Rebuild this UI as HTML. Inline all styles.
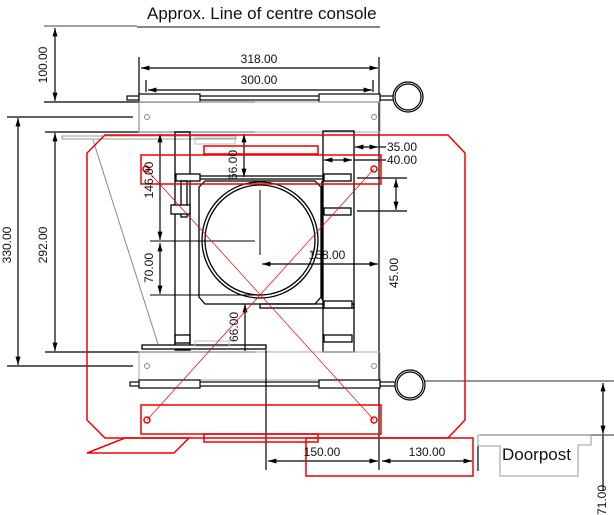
<!DOCTYPE html>
<html><head><meta charset="utf-8"><style>
html,body{margin:0;padding:0;background:#fff;}
svg{display:block;font-family:"Liberation Sans",sans-serif;}
</style></head><body>
<svg width="614" height="515" viewBox="0 0 614 515" xmlns="http://www.w3.org/2000/svg">
<defs>
<marker id="a" viewBox="0 0 10 10" refX="10" refY="5" markerWidth="7" markerHeight="7" orient="auto-start-reverse"><path d="M0,2 L10,5 L0,8 z" fill="#000"/></marker>
</defs>
<text x="147" y="19" font-size="17" fill="#111">Approx. Line of centre console</text>
<line x1="137" y1="27" x2="380" y2="27" stroke="#888" stroke-width="2"/>
<line x1="44" y1="26" x2="137" y2="26" stroke="#444" stroke-width="1"/>
<g stroke="#000" stroke-width="1.2" fill="none">
<line x1="55" y1="28" x2="55" y2="101" marker-start="url(#a)" marker-end="url(#a)"/>
<line x1="44" y1="102" x2="255" y2="102"/>
<line x1="139" y1="57" x2="139" y2="132"/>
<line x1="379" y1="57" x2="379" y2="470"/>
<line x1="141" y1="68" x2="378" y2="68" marker-start="url(#a)" marker-end="url(#a)"/>
<line x1="146" y1="80" x2="146" y2="92"/>
<line x1="373" y1="80" x2="373" y2="92"/>
<line x1="148" y1="90" x2="372" y2="90" marker-start="url(#a)" marker-end="url(#a)"/>
<rect x="127" y="96" width="253" height="4"/>
<rect x="139" y="94" width="61" height="8" fill="#fff"/>
<rect x="319" y="94" width="61" height="8" fill="#fff"/>
<line x1="380" y1="96" x2="393" y2="96"/><line x1="380" y1="100" x2="393" y2="100"/>
<circle cx="408" cy="97" r="15"/><circle cx="408" cy="97" r="13"/>
<line x1="7" y1="117" x2="133" y2="117"/>
<line x1="7" y1="366" x2="133" y2="366"/>
<line x1="18" y1="118" x2="18" y2="365" marker-start="url(#a)" marker-end="url(#a)"/>
<line x1="45" y1="132" x2="255" y2="132"/>
<line x1="45" y1="352" x2="255" y2="352"/>
<line x1="55" y1="133" x2="55" y2="351" marker-start="url(#a)" marker-end="url(#a)"/>
</g>
<rect x="139" y="102" width="241" height="30" fill="none" stroke="#aaa"/>
<circle cx="147" cy="117" r="2.5" fill="none" stroke="#888"/>
<circle cx="374" cy="117" r="2.5" fill="none" stroke="#888"/>
<rect x="62" y="136" width="174" height="3" fill="none" stroke="#999"/>
<line x1="93" y1="140" x2="158" y2="344" stroke="#888"/>
<rect x="195" y="138" width="40" height="6" fill="none" stroke="#bbb"/>
<g stroke="#000" stroke-width="1.3" fill="none">
<rect x="175" y="132" width="15" height="218"/>
<rect x="323" y="131" width="31" height="221"/>
<line x1="190" y1="176" x2="323" y2="176"/><line x1="190" y1="179" x2="323" y2="179"/>
<rect x="176" y="174" width="24" height="7" fill="#fff"/>
<rect x="324" y="174" width="27" height="7" fill="#fff"/>
<rect x="324" y="208" width="27" height="7" fill="#fff"/>
<rect x="181" y="181" width="6" height="36"/>
<rect x="171" y="205" width="19" height="9" fill="#fff"/>
<path d="M205,181 L315,181 L321,187 L321,297 L315,304 L205,304 L199,297 L199,187 Z"/>
<line x1="322" y1="181" x2="322" y2="300"/>
<circle cx="260" cy="240" r="58"/><circle cx="260" cy="240" r="55"/>
<line x1="260" y1="190" x2="260" y2="255" stroke-width="1"/>
<line x1="150" y1="241" x2="255" y2="241" stroke-width="1"/>
<line x1="150" y1="295" x2="255" y2="295" stroke-width="1"/>
<rect x="260" y="304" width="94" height="4"/>
<rect x="324" y="301" width="28" height="7" fill="#fff"/>
<rect x="324" y="335" width="28" height="7" fill="#fff"/>
<rect x="175" y="335" width="15" height="8"/>
<rect x="142" y="345" width="124" height="4" fill="#fff"/>
</g>
<rect x="195" y="341" width="34" height="5" fill="none" stroke="#bbb"/>
<rect x="139" y="352" width="241" height="28" fill="none" stroke="#aaa"/>
<circle cx="147" cy="366" r="2.5" fill="none" stroke="#888"/>
<circle cx="374" cy="366" r="2.5" fill="none" stroke="#888"/>
<g stroke="#000" stroke-width="1.2" fill="none">
<rect x="130" y="382" width="250" height="4"/>
<rect x="139" y="380" width="61" height="8" fill="#fff"/>
<rect x="319" y="380" width="61" height="8" fill="#fff"/>
<line x1="380" y1="382" x2="395" y2="382"/><line x1="380" y1="386" x2="395" y2="386"/>
<circle cx="410" cy="385" r="15"/><circle cx="410" cy="385" r="13"/>
<line x1="425" y1="381" x2="614" y2="381" stroke="#555"/>
<line x1="480" y1="435" x2="614" y2="435" stroke="#555"/>
<line x1="603" y1="383" x2="603" y2="434" marker-start="url(#a)" marker-end="url(#a)"/>
<line x1="603" y1="435" x2="603" y2="490"/>
<line x1="160" y1="134" x2="160" y2="240" marker-start="url(#a)" marker-end="url(#a)"/>
<line x1="160" y1="243" x2="160" y2="294" marker-start="url(#a)" marker-end="url(#a)"/>
<line x1="244" y1="134" x2="244" y2="177" marker-start="url(#a)" marker-end="url(#a)"/>
<line x1="245" y1="304" x2="245" y2="351" marker-start="url(#a)"/>
<line x1="262" y1="264" x2="378" y2="264" marker-start="url(#a)" marker-end="url(#a)"/>
<line x1="355" y1="147" x2="378" y2="147" marker-start="url(#a)" marker-end="url(#a)"/>
<line x1="324" y1="160" x2="352" y2="160" marker-start="url(#a)" marker-end="url(#a)"/>
<line x1="379" y1="147" x2="386" y2="147"/>
<line x1="354" y1="160" x2="386" y2="160"/>
<line x1="357" y1="178" x2="407" y2="178"/>
<line x1="357" y1="211" x2="407" y2="211"/>
<line x1="396" y1="179" x2="396" y2="210" marker-start="url(#a)" marker-end="url(#a)"/>
<line x1="266" y1="350" x2="266" y2="470"/>
<line x1="268" y1="461" x2="378" y2="461" marker-start="url(#a)" marker-end="url(#a)"/>
<line x1="382" y1="461" x2="472" y2="461" marker-start="url(#a)" marker-end="url(#a)"/>
<line x1="478" y1="446" x2="478" y2="471"/>
</g>
<polygon points="478,435 591,435 591,445 578,445 578,476 500,476 500,446 478,446" fill="none" stroke="#999"/>
<text x="502" y="460" font-size="17" fill="#111">Doorpost</text>
<g stroke="#e00" fill="none" stroke-width="1.5">
<polygon points="105,135 448,135 465,153 465,420 448,438 105,438 87,420 87,153"/>
<rect x="141" y="155" width="240" height="29"/>
<rect x="204" y="146" width="114" height="8"/>
<rect x="141" y="405" width="240" height="29"/>
<rect x="204" y="434" width="114" height="8"/>
<rect x="306" y="438" width="167" height="38"/>
<polygon points="87,453 125,438 189,438 174,453"/>
<circle cx="146" cy="169" r="3"/><circle cx="374" cy="169" r="3"/>
<circle cx="147" cy="420" r="3"/><circle cx="374" cy="420" r="3"/>
<line x1="146" y1="169" x2="374" y2="420" stroke-width="0.7"/>
<line x1="374" y1="169" x2="147" y2="420" stroke-width="0.7"/>
</g>
<g font-size="12" fill="#111">
<text x="44" y="65" transform="rotate(-90 44 65)" text-anchor="middle" dominant-baseline="middle">100.00</text>
<text x="8" y="245" transform="rotate(-90 8 245)" text-anchor="middle" dominant-baseline="middle">330.00</text>
<text x="44" y="245" transform="rotate(-90 44 245)" text-anchor="middle" dominant-baseline="middle">292.00</text>
<text x="259" y="63" text-anchor="middle">318.00</text>
<text x="259" y="84" text-anchor="middle">300.00</text>
<text x="150" y="180" transform="rotate(-90 150 180)" text-anchor="middle" dominant-baseline="middle">146.00</text>
<text x="150" y="268" transform="rotate(-90 150 268)" text-anchor="middle" dominant-baseline="middle">70.00</text>
<text x="234" y="165" transform="rotate(-90 234 165)" text-anchor="middle" dominant-baseline="middle">66.00</text>
<text x="235" y="327" transform="rotate(-90 235 327)" text-anchor="middle" dominant-baseline="middle">66.00</text>
<text x="327" y="259" text-anchor="middle">158.00</text>
<text x="387" y="151">35.00</text>
<text x="387" y="164">40.00</text>
<text x="395" y="273" transform="rotate(-90 395 273)" text-anchor="middle" dominant-baseline="middle">45.00</text>
<text x="322" y="456" text-anchor="middle">150.00</text>
<text x="427" y="456" text-anchor="middle">130.00</text>
<text x="603" y="500" transform="rotate(-90 603 500)" text-anchor="middle" dominant-baseline="middle">71.00</text>
</g>
</svg>
</body></html>
